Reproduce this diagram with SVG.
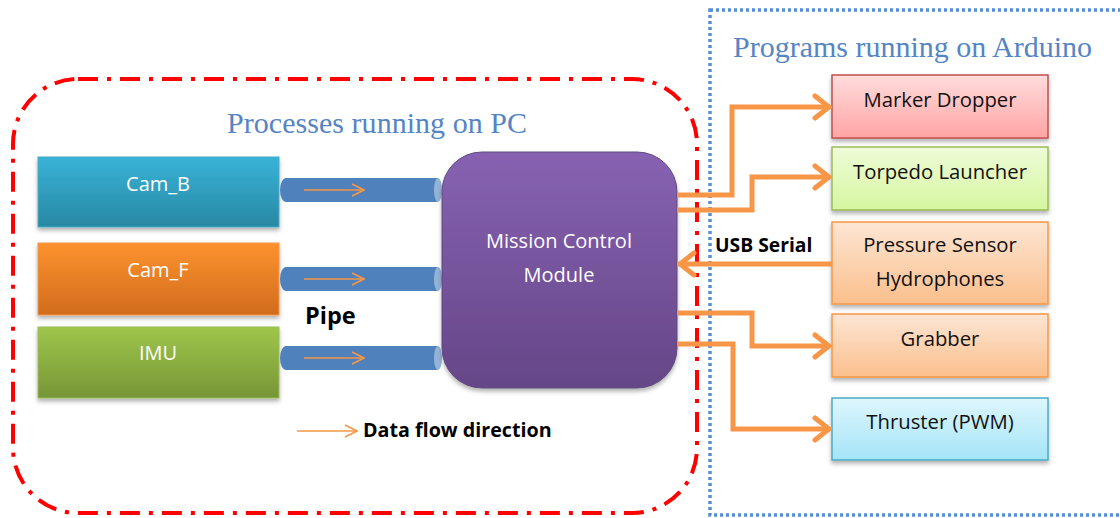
<svg xmlns="http://www.w3.org/2000/svg" width="1120" height="518" viewBox="0 0 1120 518">
<style>
.title{font-family:"Liberation Serif",serif;font-size:30px;fill:#5585c4}
.wt{font-family:"Open Sans",sans-serif;font-size:20px;fill:#ffffff;text-anchor:middle}
.bt{font-family:"Open Sans",sans-serif;font-size:20.3px;fill:#111111;text-anchor:middle}
.bold{font-family:"Open Sans",sans-serif;font-weight:bold;fill:#000000}
.conn{fill:none;stroke:#f79646;stroke-width:5;stroke-linejoin:miter}
.pipe{fill:#4f81bd}
.pcap{fill:#95b3d7}
.small{fill:none;stroke:#f79646;stroke-width:1.6}
</style>
<defs>
<linearGradient id="gB" x1="0" y1="0" x2="0" y2="1"><stop offset="0" stop-color="#38b3d8"/><stop offset="1" stop-color="#2888a3"/></linearGradient>
<linearGradient id="gF" x1="0" y1="0" x2="0" y2="1"><stop offset="0" stop-color="#fd922e"/><stop offset="1" stop-color="#d06c1d"/></linearGradient>
<linearGradient id="gI" x1="0" y1="0" x2="0" y2="1"><stop offset="0" stop-color="#9fc64b"/><stop offset="1" stop-color="#769537"/></linearGradient>
<linearGradient id="gM" x1="0" y1="0" x2="0" y2="1"><stop offset="0" stop-color="#8762b2"/><stop offset="1" stop-color="#654687"/></linearGradient>
<linearGradient id="gR" x1="0" y1="0" x2="0" y2="1"><stop offset="0" stop-color="#ffdcdc"/><stop offset="1" stop-color="#ffa4a4"/></linearGradient>
<linearGradient id="gG" x1="0" y1="0" x2="0" y2="1"><stop offset="0" stop-color="#eefcd8"/><stop offset="1" stop-color="#d6f6a0"/></linearGradient>
<linearGradient id="gO" x1="0" y1="0" x2="0" y2="1"><stop offset="0" stop-color="#fde6d4"/><stop offset="1" stop-color="#fbbf8c"/></linearGradient>
<linearGradient id="gC" x1="0" y1="0" x2="0" y2="1"><stop offset="0" stop-color="#def6fd"/><stop offset="1" stop-color="#a4e4f7"/></linearGradient>
<filter id="sh" x="-10%" y="-10%" width="120%" height="130%"><feDropShadow dx="0" dy="3" stdDeviation="2" flood-color="#000" flood-opacity="0.3"/></filter>
<marker id="ah" markerUnits="userSpaceOnUse" viewBox="0 0 20 30" refX="18" refY="15" markerWidth="20" markerHeight="30" orient="auto"><path d="M3,4 L17,15 L3,26" fill="none" stroke="#f79646" stroke-width="5" stroke-linecap="round" stroke-linejoin="miter"/></marker>
<marker id="sa" markerUnits="userSpaceOnUse" viewBox="0 0 14 14" refX="13" refY="7" markerWidth="14" markerHeight="14" orient="auto"><path d="M1,1 L13,7 L1,13" fill="none" stroke="#f79646" stroke-width="1.6"/></marker>
</defs>
<rect width="1120" height="518" fill="#ffffff"/>
<g id="pc-region">
<rect x="13" y="79" width="684" height="434" rx="65" ry="65" fill="none" stroke="#ff0000" stroke-width="4" stroke-dasharray="20 9 4 9"/>
<text class="title" x="227" y="133" textLength="300" lengthAdjust="spacing">Processes running on PC</text>
</g>
<g id="arduino-region">
<rect x="710" y="10" width="420" height="505" fill="none" stroke="#558ed5" stroke-width="3.5" stroke-dasharray="3 3"/>
<text class="title" x="733" y="57" textLength="359" lengthAdjust="spacing">Programs running on Arduino</text>
</g>
<g id="cam_b"><rect x="38" y="157" width="241" height="70" fill="url(#gB)" stroke="#4bacc6" stroke-width="1" filter="url(#sh)"/><text class="wt" x="158" y="191">Cam_B</text></g>
<g id="cam_f"><rect x="38" y="243" width="241" height="72" fill="url(#gF)" stroke="#f79646" stroke-width="1" filter="url(#sh)"/><text class="wt" x="158" y="277">Cam_F</text></g>
<g id="imu"><rect x="38" y="327" width="241" height="71" fill="url(#gI)" stroke="#9bbb59" stroke-width="1" filter="url(#sh)"/><text class="wt" x="158" y="360">IMU</text></g>
<g id="pipes">
<path class="pipe" d="M286,178 H438 V202 H286 A6,12 0 0 1 286,178 Z"/><ellipse class="pcap" cx="438" cy="190" rx="4" ry="12"/>
<line class="small" x1="304" y1="190" x2="364" y2="190" marker-end="url(#sa)"/>
<path class="pipe" d="M286,267 H438 V291 H286 A6,12 0 0 1 286,267 Z"/><ellipse class="pcap" cx="438" cy="279" rx="4" ry="12"/>
<line class="small" x1="304" y1="279" x2="364" y2="279" marker-end="url(#sa)"/>
<path class="pipe" d="M286,346 H438 V370 H286 A6,12 0 0 1 286,346 Z"/><ellipse class="pcap" cx="438" cy="358" rx="4" ry="12"/>
<line class="small" x1="304" y1="358" x2="364" y2="358" marker-end="url(#sa)"/>
<text class="bold" x="305" y="324" font-size="23.5">Pipe</text>
</g>
<g id="legend">
<line class="small" x1="297" y1="431" x2="357" y2="431" marker-end="url(#sa)"/>
<text class="bold" x="363" y="437" font-size="19.7">Data flow direction</text>
</g>
<g id="mcm"><rect x="442" y="152" width="235" height="236" rx="40" ry="40" fill="url(#gM)" stroke="#5f4a80" stroke-width="1" filter="url(#sh)"/><text class="wt" x="559" y="248" font-size="21.5">Mission Control</text><text class="wt" x="559" y="282" font-size="21.5">Module</text></g>
<g id="marker-dropper"><rect x="832" y="75" width="216" height="63" fill="url(#gR)" stroke="#c0504d" stroke-width="1.5" filter="url(#sh)"/><text class="bt" x="940" y="107">Marker Dropper</text></g>
<g id="torpedo"><rect x="832" y="147" width="216" height="63" fill="url(#gG)" stroke="#9bbb59" stroke-width="1.5" filter="url(#sh)"/><text class="bt" x="940" y="179">Torpedo Launcher</text></g>
<g id="pressure"><rect x="832" y="222" width="216" height="82" fill="url(#gO)" stroke="#f79646" stroke-width="1.5" filter="url(#sh)"/><text class="bt" x="940" y="252">Pressure Sensor</text><text class="bt" x="940" y="286">Hydrophones</text></g>
<g id="grabber"><rect x="832" y="314" width="216" height="63" fill="url(#gO)" stroke="#f79646" stroke-width="1.5" filter="url(#sh)"/><text class="bt" x="940" y="346">Grabber</text></g>
<g id="thruster"><rect x="832" y="398" width="216" height="62" fill="url(#gC)" stroke="#4bacc6" stroke-width="1.5" filter="url(#sh)"/><text class="bt" x="940" y="429">Thruster (PWM)</text></g>
<g id="connectors">
<path class="conn" d="M677,195 H732 V107 H830" marker-end="url(#ah)"/>
<path class="conn" d="M677,210 H752 V177 H830" marker-end="url(#ah)"/>
<path class="conn" d="M832,264 H679" marker-end="url(#ah)"/>
<path class="conn" d="M677,313 H752 V346 H830" marker-end="url(#ah)"/>
<path class="conn" d="M677,344 H733 V429 H830" marker-end="url(#ah)"/>
<text class="bold" x="715" y="252" font-size="19.3">USB Serial</text>
</g>
</svg>
